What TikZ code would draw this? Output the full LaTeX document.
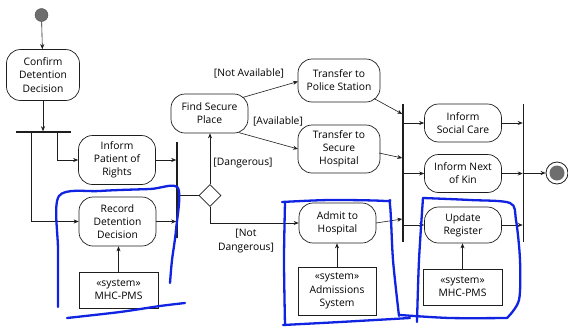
\documentclass[tikz,border=0pt]{standalone}
\usepackage{fontspec}
\setmainfont{Open Sans}
\usetikzlibrary{arrows.meta,calc,shapes.geometric}
\definecolor{handblue}{RGB}{15,35,225}
\definecolor{dotgray}{RGB}{110,110,110}
\definecolor{ink}{RGB}{30,30,30}
\begin{document}
\begin{tikzpicture}[x=1pt,y=-1pt,
  txt/.style={font=\fontsize{10.3}{13.2}\selectfont},
  act/.style={txt,draw=ink,rounded corners=14pt,align=center,inner sep=0pt,line width=0.7pt},
  sys/.style={txt,draw=ink,align=center,inner sep=0pt,line width=0.7pt},
  bar/.style={fill=ink,inner sep=0pt,minimum size=0pt},
  arr/.style={draw=ink,-{Stealth[length=5pt,width=4pt]},line width=0.6pt},
  plain/.style={draw=ink,line width=0.6pt},
  lab/.style={txt,inner sep=0pt,align=center},
  hand/.style={draw=handblue,line width=2.3pt,line cap=round,line join=round}
]
\useasboundingbox[fill=white] (0,0) rectangle (568,327);

% nodes
\node[circle,fill=dotgray,draw=ink!80,minimum size=13pt,inner sep=0pt] (start) at (41.5,15) {};
\node[act,minimum width=73pt,minimum height=51pt] (confirm) at (43,75) {Confirm\\Detention\\Decision};
\node[bar,minimum width=55pt,minimum height=1.1pt] (fork) at (43.5,132) {};
\node[act,minimum width=77pt,minimum height=49pt] (inform) at (117,160) {Inform\\Patient of\\Rights};
\node[act,minimum width=77pt,minimum height=49pt] (record) at (117.5,221.5) {Record\\Detention\\Decision};
\node[bar,minimum width=1.1pt,minimum height=96pt] (join1) at (177,190) {};
\node[draw=ink,diamond,aspect=1,minimum size=22pt,inner sep=0pt,line width=0.6pt] (dec) at (210,195.5) {};
\node[act,minimum width=77pt,minimum height=39pt] (find) at (209.5,113.5) {Find Secure\\Place};
\node[act,minimum width=82pt,minimum height=43pt] (police) at (339,80.5) {Transfer to\\Police Station};
\node[act,minimum width=82pt,minimum height=48pt] (shosp) at (339,149) {Transfer to\\Secure\\Hospital};
\node[act,minimum width=77pt,minimum height=40pt] (admit) at (337.5,223) {Admit to\\Hospital};
\node[bar,minimum width=1.1pt,minimum height=138pt] (join2) at (403,173) {};
\node[act,minimum width=77pt,minimum height=38pt] (social) at (463,123) {Inform\\Social Care};
\node[act,minimum width=77pt,minimum height=38pt] (kin) at (463,173.5) {Inform Next\\of Kin};
\node[act,minimum width=77pt,minimum height=36pt] (update) at (463,225) {Update\\Register};
\node[bar,minimum width=1.1pt,minimum height=138pt] (join3) at (523.5,173) {};
\node[circle,draw=ink,line width=0.8pt,minimum size=22pt,inner sep=0pt] (end) at (557,173) {};
\node[circle,fill=dotgray,minimum size=15pt,inner sep=0pt] (endin) at (end) {};
\node[sys,minimum width=79pt,minimum height=36pt] (sys1) at (118.5,290) {«system»\\MHC-PMS};
\node[sys,minimum width=78pt,minimum height=48pt] (sys2) at (337,291) {«system»\\Admissions\\System};
\node[sys,minimum width=79pt,minimum height=36pt] (sys3) at (462.5,287) {«system»\\MHC-PMS};

% labels
\node[lab] (lNA) at (249,73) {[Not Available]};
\node[lab] (lA) at (278,121) {[Available]};
\node[lab] (lD) at (243,163) {[Dangerous]};
\node[lab] (lND) at (246,241) {[Not\\Dangerous]};

% connectors
\draw[arr] (start) -- (confirm);
\draw[arr] (confirm.south) -- (confirm.south |- fork.north);
\draw[arr] ([xshift=41pt]fork.south west) |- (inform.west);
\draw[arr] ([xshift=15pt]fork.south west) |- (record.west);
\draw[arr] (inform.east) -- (inform.east -| join1.west);
\draw[arr] (record.east) -- (record.east -| join1.west);
\draw[plain] (join1.east |- dec.west) -- (dec.west);
\draw[arr] (dec.north) -- (dec.north |- find.south);
\draw[arr] (dec.south) |- (admit.west);
\draw[arr] ($(find)+(33,-16)$) -- ($(police)+(-41,1)$);
\draw[arr] ($(find)+(29,19)$) -- ($(shosp)+(-41,0)$);
\draw[arr] ($(police)+(35,18)$) -- (join2.west |- 0,114);
\draw[arr] ($(shosp)+(40,4)$) -- (join2.west |- 0,158);
\draw[arr] ($(admit)+(38.5,0)$) -- (join2.west |- 0,219);
\draw[arr] (join2.east |- social.west) -- (social.west);
\draw[arr] (join2.east |- kin.west) -- (kin.west);
\draw[arr] (join2.east |- update.west) -- (update.west);
\draw[arr] (social.east) -- (social.east -| join3.west);
\draw[arr] (kin.east) -- (kin.east -| join3.west);
\draw[arr] (update.east) -- (update.east -| join3.west);
\draw[arr] (join3.east |- end.west) -- (end.west);
\draw[arr] (sys1.north) -- (sys1.north |- record.south);
\draw[arr] (sys2.north) -- (sys2.north |- admit.south);
\draw[arr] (sys3.north) -- (sys3.north |- update.south);

% hand-drawn blue outlines
\draw[hand] plot[smooth] coordinates {(58,307) (58,250) (59,196) (100,191) (150,189) (178,188) (176,230) (172,260) (170,283)};
\draw[hand] plot[smooth] coordinates {(67,318) (120,312) (160,306) (185,303)};
\draw[hand] plot[smooth] coordinates {(285,325) (284,260) (285,203)};
\draw[hand] plot[smooth] coordinates {(282,202) (330,200) (385,201) (390,205) (393,260) (399,316)};
\draw[hand] plot[smooth] coordinates {(283,325) (340,322) (410,318)};
\draw[hand] plot[smooth] coordinates {(417,322) (419,260) (423,198)};
\draw[hand] plot[smooth] coordinates {(423,198) (470,200) (510,203) (516,220) (520,260) (519,300) (507,318)};
\draw[hand] plot[smooth] coordinates {(400,315) (450,318) (507,318)};
\end{tikzpicture}
\end{document}
